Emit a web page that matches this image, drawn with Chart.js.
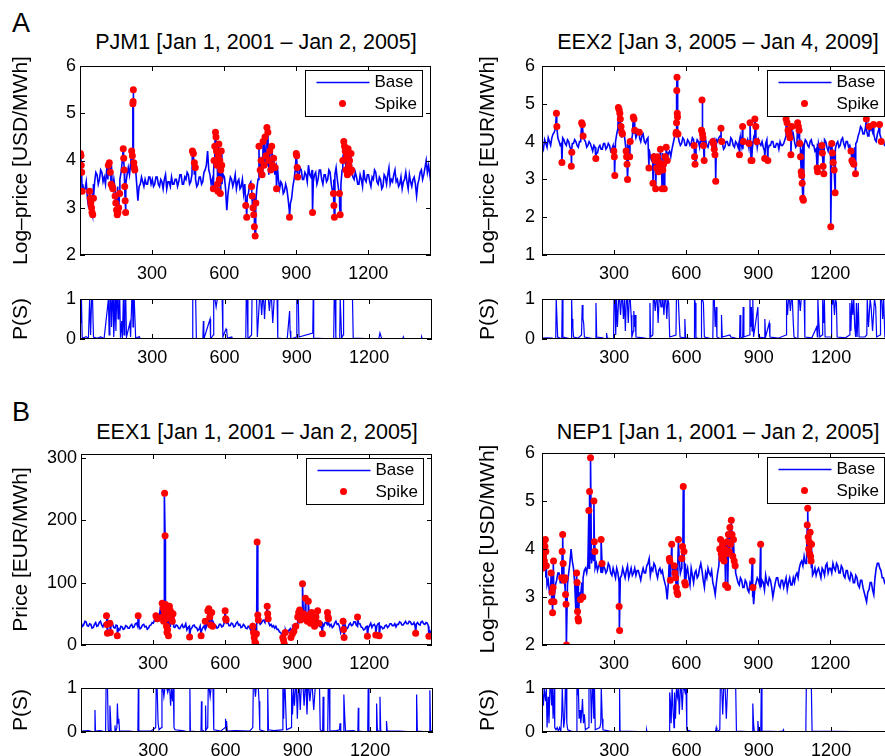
<!DOCTYPE html>
<html>
<head>
<meta charset="utf-8">
<script src="https://cdn.jsdelivr.net/npm/chart.js@4.4.0/dist/chart.umd.min.js"></script>
<style>
  html, body { margin: 0; padding: 0; overflow: hidden; background: #fff; }
  #fig { position: relative; width: 885px; height: 756px; overflow: hidden;
         font-family: "Liberation Sans", Arial, sans-serif; color: #000; }
  canvas { position: absolute; }
  .lbl { position: absolute; white-space: nowrap; }
  .ttl { position: absolute; white-space: nowrap; font-size: 21.5px; line-height: 22px; transform: translateX(-50%); }
</style>
</head>
<body>
<div id="fig">
  <div class="lbl" style="left:12px;top:10px;font-size:27px;line-height:27px">A</div>
  <div class="lbl" style="left:12px;top:399px;font-size:27px;line-height:27px">B</div>
  <div class="ttl" style="left:256px;top:31px">PJM1 [Jan 1, 2001 – Jan 2, 2005]</div>
  <div class="ttl" style="left:718px;top:31px">EEX2 [Jan 3, 2005 – Jan 4, 2009]</div>
  <div class="ttl" style="left:257px;top:421px">EEX1 [Jan 1, 2001 – Jan 2, 2005]</div>
  <div class="ttl" style="left:718px;top:421px">NEP1 [Jan 1, 2001 – Jan 2, 2005]</div>
  <canvas id="pjm"></canvas>
  <canvas id="pjmP"></canvas>
  <canvas id="eex2"></canvas>
  <canvas id="eex2P"></canvas>
  <canvas id="eex1"></canvas>
  <canvas id="eex1P"></canvas>
  <canvas id="nep"></canvas>
  <canvas id="nepP"></canvas>
</div>
<script>
// base series every 5 days, starting at day 1
const STEP = 5;
const dayMax = 1461;
const xTicks = [300, 600, 900, 1200];
const logTicks = [2, 3, 4, 5, 6];
const logTicksEEX2 = [1, 2, 3, 4, 5, 6];
const priceTicks = [0, 100, 200, 300];
const probTicks = [0, 0.5, 1];

// PJM1
const pjmBase = [
  3.9, 3.6, 3.5, 3.35, 3.4, 3.55, 3.2, 3.0, 3.05, 3.25, 3.3, 3.5, 3.55, 3.75, 3.7, 3.5, 3.6, 3.8, 3.75, 3.55,
  3.65, 3.5, 3.8, 3.6, 3.7, 3.95, 3.9, 3.55, 3.6, 3.4, 3.2, 3.45, 3.3, 3.6, 3.75, 4.0, 3.95, 3.7, 3.5, 3.7,
  3.85, 3.7, 3.95, 3.8, 4.0, 3.75, 3.85, 3.5, 3.15, 3.45, 3.5, 3.65, 3.55, 3.45, 3.6, 3.5, 3.5, 3.65, 3.65, 3.5,
  3.6, 3.45, 3.5, 3.65, 3.65, 3.5, 3.45, 3.6, 3.55, 3.4, 3.6, 3.7, 3.4, 3.55, 3.55, 3.45, 3.65, 3.5, 3.5, 3.6,
  3.6, 3.45, 3.55, 3.7, 3.7, 3.5, 3.5, 3.65, 3.6, 3.75, 3.7, 3.5, 3.55, 3.7, 4.0, 3.7, 3.6, 3.45, 3.5, 3.65,
  3.65, 3.5, 3.55, 3.75, 3.8, 3.9, 4.2, 3.8, 3.7, 3.5, 3.6, 3.75, 3.9, 4.1, 4.2, 3.9, 3.7, 3.55, 3.5, 3.7,
  3.65, 3.4, 2.95, 3.3, 3.5, 3.65, 3.6, 3.45, 3.55, 3.7, 3.4, 3.55, 3.6, 3.4, 3.45, 3.6, 3.3, 3.5, 3.1, 3.25,
  3.3, 3.5, 3.55, 3.2, 3.0, 3.3, 2.9, 3.4, 3.6, 3.75, 3.8, 3.95, 3.9, 4.1, 4.2, 3.9, 4.0, 3.7, 3.8, 3.95,
  4.1, 3.85, 3.7, 3.9, 3.9, 3.6, 3.4, 3.55, 3.5, 3.3, 3.35, 3.5, 3.4, 3.2, 2.95, 3.1, 3.2, 3.45, 3.6, 3.8,
  3.75, 3.6, 3.65, 3.85, 3.8, 3.6, 3.6, 3.75, 3.7, 3.55, 3.9, 3.7, 3.65, 3.8, 3.55, 3.7, 3.75, 3.5, 3.6, 3.8,
  3.8, 3.6, 3.5, 3.7, 3.7, 3.55, 3.6, 3.8, 3.75, 3.5, 3.35, 3.6, 3.7, 3.85, 3.6, 3.4, 3.0, 3.5, 3.8, 3.95,
  4.1, 3.85, 3.9, 4.15, 4.2, 3.9, 3.8, 3.65, 3.6, 3.75, 3.65, 3.5, 3.5, 3.7, 3.6, 3.45, 3.8, 3.6, 3.55, 3.7,
  3.7, 3.55, 3.45, 3.65, 3.6, 3.8, 3.75, 3.55, 3.5, 3.65, 3.6, 3.4, 3.45, 3.7, 3.65, 3.5, 3.7, 3.85, 3.5, 3.6,
  3.55, 3.7, 3.8, 3.55, 3.6, 3.45, 3.5, 3.65, 3.4, 3.55, 3.6, 3.75, 3.55, 3.4, 3.7, 3.55, 3.45, 3.6, 3.65, 3.5,
  3.25, 3.5, 3.6, 3.75, 3.8, 3.6, 3.7, 3.85, 4.0, 3.75, 3.9, 3.7, 3.5
];
const pjmSpikes = [
  [2,4.15],[4,4.1],[5,3.9],[7,3.75],[9,3.35],
  [40,3.35],[43,3.2],[45,3.1],[48,3.0],[50,2.9],[53,2.85],[56,3.2],
  [118,3.9],[122,3.95],[126,3.75],[130,3.5],[134,3.45],[137,3.4],
  [146,3.25],[149,3.1],[152,2.95],[155,2.85],[158,2.9],[161,3.0],[165,3.3],
  [180,4.25],[182,4.05],[184,3.8],[186,3.45],[188,3.15],[190,2.9],
  [215,4.2],[218,4.1],[220,5.2],[221,5.25],[222,5.5],[224,3.95],[226,3.85],[228,3.8],
  [468,4.2],[472,4.15],[476,3.95],[480,3.85],
  [555,3.4],[558,4.0],[561,4.3],[564,4.6],[566,4.5],[568,4.2],[570,3.9],[572,3.5],[574,3.35],
  [576,4.1],[578,4.35],[580,3.6],[582,4.0],[584,3.3],[586,3.8],[588,4.2],[590,3.9],
  [690,3.05],[694,2.8],
  [714,3.45],[717,3.25],[720,3.0],[723,2.85],[726,2.6],[729,2.4],[732,3.1],
  [745,4.3],[750,3.8],[754,4.0],[758,3.7],[762,4.4],[766,3.9],[770,4.5],[774,4.1],[778,4.7],
  [782,4.6],[786,4.0],[790,4.2],[794,3.8],[798,4.3],[802,3.9],[806,4.05],[812,3.85],[818,3.4],
  [872,2.8],[900,4.15],[902,4.1],[904,3.85],[906,3.65],[968,2.9],
  [1055,3.3],[1057,3.05],[1059,2.8],[1080,3.3],[1083,2.85],
  [1094,4.0],[1098,4.4],[1101,4.3],[1104,4.2],[1107,3.8],[1110,4.1],[1113,3.7],[1116,4.25],
  [1119,3.9],[1122,4.0],[1125,3.75],[1128,4.15],[1131,3.8]
];
const pjmProb = [
  [0,1],[2,1],[4,0.4],[6,1],[9,0.05],[12,0.02],[25,0.06],[35,0.02],[40,1],[44,0.1],[48,1],[52,1],[56,0.05],
  [70,0.02],[85,0.05],[100,0.01],[118,1],[121,0.1],[124,1],[128,1],[131,0.3],[134,1],[137,1],[140,0.05],
  [146,1],[149,0.2],[152,1],[155,1],[158,0.5],[161,1],[165,1],[168,0.03],[173,0.45],[176,0.02],
  [180,1],[183,0.1],[186,1],[190,1],[193,0.05],[207,0.4],[210,0.05],[215,1],[218,1],[220,0.3],[222,1],
  [225,1],[228,1],[231,0.02],[246,0.06],[250,0.01],[466,0],[468,1],[472,1],[476,1],[480,1],[483,0.01],
  [510,0],[512,0.45],[514,0],[540,0.5],[542,0],[553,0.1],[555,1],[560,1],[565,0.8],[570,1],[575,1],
  [580,1],[585,1],[590,1],[593,0.05],[606,0.25],[609,0.2],[612,0.02],[630,0.05],[633,0],[688,0],[690,1],
  [694,1],[697,0],[712,0.1],[714,1],[718,1],[722,1],[726,1],[729,1],[733,1],[736,0.05],[745,1],[750,1],
  [754,0.6],[758,1],[762,1],[766,0.5],[770,1],[774,1],[778,1],[782,1],[786,0.7],[790,1],[795,1],[800,0.4],
  [806,1],[812,1],[818,1],[821,0.02],[860,0],[870,0.7],[872,0.2],[875,0],[898,0.05],[900,1],[904,1],
  [906,1],[909,0.05],[966,0.15],[968,1],[970,0.02],[1053,0],[1055,1],[1059,1],[1062,0.02],[1078,0],
  [1080,1],[1083,1],[1086,0.02],[1092,0.1],[1094,1],[1100,1],[1106,1],[1112,1],[1118,1],[1124,1],
  [1131,1],[1134,0.02],[1240,0],[1245,0.15],[1250,0.05],[1255,0],[1340,0],[1342,0.05],[1345,0],
  [1416,0],[1418,0.05],[1421,0],[1461,0]
];

// EEX2
const eex2Base = [
  3.9, 3.8, 4.05, 3.95, 3.85, 4.1, 4.0, 3.9, 4.1, 4.2, 4.25, 4.35, 4.3, 4.1, 4.0, 3.9, 3.95, 4.1, 4.05, 3.95,
  3.9, 4.05, 4.0, 3.85, 3.8, 3.95, 3.95, 4.05, 4.0, 3.9, 3.85, 4.0, 4.0, 4.15, 4.2, 4.05, 4.0, 3.85, 3.9, 4.0,
  3.95, 3.85, 3.75, 3.9, 3.85, 3.7, 3.7, 3.85, 3.9, 3.8, 3.8, 3.95, 3.95, 3.8, 3.85, 3.95, 3.9, 3.75, 3.8, 3.9,
  3.85, 4.0, 4.2, 4.35, 4.3, 4.15, 4.1, 4.3, 4.25, 4.0, 3.8, 3.95, 3.9, 4.05, 4.0, 4.15, 4.2, 4.3, 4.1, 4.2,
  4.3, 4.1, 4.0, 4.15, 4.2, 4.0, 3.95, 4.05, 4.1, 3.8, 3.6, 3.5, 3.45, 3.7, 3.6, 3.35, 3.4, 3.6, 3.55, 3.3,
  3.7, 3.5, 3.35, 3.55, 3.6, 3.7, 3.75, 3.6, 3.8, 3.95, 4.1, 4.2, 4.3, 4.15, 4.0, 3.9, 3.95, 4.1, 4.05, 3.9,
  3.9, 4.05, 4.0, 3.9, 3.95, 4.1, 4.05, 3.9, 3.9, 4.05, 4.0, 3.85, 4.1, 4.0, 4.0, 4.15, 4.05, 3.9, 3.85, 4.0,
  4.0, 3.9, 4.1, 4.0, 3.9, 4.05, 4.0, 4.1, 4.15, 4.0, 3.95, 3.8, 3.85, 4.0, 4.0, 3.9, 3.9, 4.1, 4.05, 3.9,
  3.85, 4.0, 3.95, 3.85, 4.0, 4.1, 3.9, 3.8, 4.05, 3.95, 3.95, 4.05, 3.85, 3.95, 4.0, 3.85, 4.1, 4.0, 3.95, 3.85,
  4.05, 3.95, 3.9, 4.0, 3.85, 3.75, 3.95, 4.05, 3.8, 3.9, 3.9, 4.0, 4.0, 3.85, 3.85, 3.95, 3.95, 3.8, 4.0, 3.9,
  3.9, 3.95, 4.05, 4.15, 4.2, 4.35, 4.3, 4.15, 4.1, 4.2, 4.0, 3.85, 3.9, 4.1, 4.2, 4.0, 3.8, 3.95, 3.9, 4.05,
  4.0, 3.9, 3.85, 4.0, 4.05, 3.9, 3.9, 3.75, 3.8, 3.95, 3.95, 3.8, 3.7, 3.85, 3.9, 4.05, 4.0, 3.85, 3.75, 3.9,
  3.9, 3.75, 3.55, 3.7, 3.8, 3.95, 4.0, 3.85, 3.9, 4.05, 4.1, 3.95, 3.85, 4.0, 4.0, 3.85, 3.9, 3.75, 3.7, 3.8,
  3.85, 3.95, 4.0, 4.15, 4.25, 4.4, 4.35, 4.2, 4.2, 4.35, 4.3, 4.15, 4.15, 4.3, 4.35, 4.25, 4.2, 4.05, 4.0, 4.2,
  4.3, 4.2, 4.1, 4.0, 4.0, 3.9, 3.9, 4.05, 4.1, 3.95, 3.95, 4.05, 4.0
];
const eex2Spikes = [
  [60,4.75],[62,4.4],[83,3.45],[122,3.35],[124,3.72],[165,4.5],[168,4.45],[171,4.15],[224,3.55],
  [299,3.75],[301,3.6],[303,3.1],
  [318,4.9],[321,4.85],[324,4.75],[326,4.6],[329,4.4],[332,4.25],[335,4.2],[350,3.75],[352,3.6],
  [354,3.4],[356,3.0],[365,3.6],[367,4.0],[380,4.65],[383,4.6],[386,4.3],[405,4.25],[445,3.3],
  [462,2.9],[466,3.6],[470,3.5],[473,2.75],[477,3.3],[481,3.6],[485,3.2],[489,3.45],[493,3.8],
  [497,3.35],[500,2.75],[503,3.25],[506,3.4],[509,2.75],[513,3.6],[517,3.85],[521,3.5],
  [558,4.2],[559,4.25],[560,4.5],[561,5.35],[562,5.7],[563,4.75],[564,4.65],[566,4.2],
  [633,3.9],[635,3.6],[637,3.4],
  [664,4.3],[666,5.1],[668,4.2],[670,4.1],[672,3.9],[675,3.5],
  [711,4.0],[714,3.95],[717,3.8],[720,3.65],[723,2.95],
  [745,4.35],[748,4.0],[822,3.65],[835,4.4],[838,4.0],
  [862,3.95],[866,4.5],[870,3.5],[874,3.5],[886,4.6],[890,4.4],[894,4.0],[927,3.55],[940,3.5],
  [1016,4.6],[1020,4.5],[1024,4.3],[1028,4.2],[1032,4.1],[1036,3.65],[1040,4.4],
  [1064,4.5],[1067,4.4],[1070,4.3],[1073,3.95],[1076,3.6],[1079,3.2],[1081,3.1],[1083,2.9],
  [1085,2.5],[1088,2.45],
  [1145,3.3],[1147,3.2],[1165,3.9],[1167,3.7],[1170,3.35],[1173,3.15],
  [1202,1.75],[1206,3.95],[1209,3.7],[1212,3.45],[1216,3.25],[1220,2.65],
  [1286,3.75],[1290,3.5],[1294,3.45],[1298,3.4],[1305,3.15],
  [1350,4.6],[1362,4.4],[1380,4.45],[1405,4.45],[1412,4.0]
];
const eex2Prob = [
  [0,0.02],[20,0.03],[40,0.02],[57,0],[59,1],[62,1],[65,0.05],[82,0],[84,1],[87,0.05],[100,0.03],
  [121,0],[123,1],[125,0.5],[128,0.3],[131,0.05],[150,0.02],[164,0.1],[167,0.85],[170,0.5],[173,0.4],
  [176,0.05],[200,0.02],[222,0],[224,0.9],[227,0.05],[250,0.03],[266,0],[268,0.15],[271,0.02],[297,0],
  [299,1],[303,1],[306,0.1],[309,1],[313,0.3],[318,1],[322,1],[326,0.6],[330,1],[334,1],[338,0.5],
  [342,1],[346,0.2],[350,1],[354,1],[358,0.4],[362,1],[366,1],[370,0.6],[373,0.05],[379,0.2],[381,0.7],
  [384,0.3],[387,0.6],[390,0.05],[420,0.03],[446,0],[448,0.9],[451,0.05],[460,0.1],[462,1],[466,1],
  [470,0.7],[474,1],[478,1],[482,0.4],[486,1],[490,1],[494,0.8],[498,1],[502,1],[506,0.6],[510,1],
  [514,1],[518,0.5],[522,1],[526,0.9],[530,0.05],[556,0.1],[558,1],[562,1],[566,1],[570,0.4],[573,0.05],
  [590,0.03],[593,0.5],[596,0.03],[631,0],[633,1],[636,0.9],[639,0.03],[660,0],[662,1],[666,1],[670,0.9],
  [674,0.05],[709,0],[711,1],[715,1],[719,0.3],[723,0.8],[726,0.05],[743,0],[745,0.6],[748,0.05],
  [780,0.1],[784,0.05],[820,0],[822,0.6],[825,0.05],[833,0],[835,0.8],[838,0.05],[860,0.1],[863,1],
  [866,0.3],[869,0.8],[872,0.2],[875,1],[878,0.05],[896,0.8],[899,0.05],[922,0.03],[925,0.5],[928,0.05],
  [943,0.4],[946,0.05],[980,0.02],[1013,0.1],[1015,1],[1019,0.6],[1023,1],[1027,1],[1031,0.7],[1035,1],
  [1039,1],[1043,0.4],[1046,0.05],[1062,0],[1064,1],[1068,1],[1072,0.7],[1076,1],[1080,1],[1084,1],
  [1088,1],[1091,0.05],[1120,0.03],[1140,0.3],[1143,0.05],[1145,1],[1149,0.4],[1153,0.05],[1163,0.1],
  [1165,1],[1169,0.4],[1172,1],[1175,0.05],[1200,0.05],[1202,1],[1206,0.9],[1210,1],[1214,0.6],[1218,1],
  [1222,0.9],[1225,0.05],[1260,0.03],[1276,0.1],[1278,0.9],[1282,0.2],[1286,1],[1290,0.6],[1294,1],
  [1298,0.3],[1302,0.05],[1305,0.9],[1308,0.05],[1313,0.9],[1316,0.05],[1340,0.05],[1348,0.1],[1350,1],
  [1355,0.3],[1362,1],[1366,0.8],[1372,0.2],[1380,1],[1385,0.8],[1389,0.05],[1403,0.1],[1405,1],
  [1410,1],[1414,0.5],[1418,1],[1423,0.05],[1440,0.03],[1461,0.02]
];

// EEX1
const eex1Base = [
  35, 30, 32, 38, 37, 31, 30, 34, 33, 27, 28, 33, 36, 30, 31, 36, 38, 32, 29, 34,
  33, 37, 40, 33, 30, 35, 34, 28, 27, 32, 31, 26, 24, 30, 29, 25, 26, 31, 30, 27,
  27, 31, 33, 28, 29, 34, 35, 30, 31, 26, 28, 32, 33, 29, 30, 25, 27, 31, 32, 36,
  35, 40, 38, 44, 40, 48, 60, 42, 45, 36, 38, 32, 34, 28, 30, 35, 33, 29, 28, 32,
  31, 27, 26, 30, 33, 28, 29, 34, 24, 28, 30, 25, 27, 31, 32, 28, 28, 23, 25, 30,
  22, 27, 30, 26, 28, 33, 34, 38, 40, 34, 36, 31, 31, 27, 28, 33, 33, 29, 30, 35,
  42, 35, 36, 31, 31, 35, 34, 29, 30, 35, 37, 32, 33, 28, 29, 33, 31, 27, 26, 30,
  28, 24, 22, 27, 25, 30, 30, 35, 38, 33, 35, 39, 40, 36, 44, 38, 36, 31, 33, 29,
  31, 27, 30, 25, 25, 21, 20, 16, 14, 20, 24, 18, 20, 24, 26, 22, 30, 27, 32, 28,
  35, 40, 45, 38, 48, 42, 40, 46, 52, 41, 38, 33, 35, 31, 30, 34, 28, 32, 33, 29,
  29, 34, 31, 36, 36, 32, 35, 30, 33, 28, 30, 35, 38, 33, 34, 29, 20, 27, 32, 36,
  30, 26, 28, 33, 35, 31, 32, 37, 37, 32, 30, 34, 34, 29, 28, 24, 25, 29, 30, 27,
  31, 35, 28, 32, 33, 29, 30, 34, 35, 30, 29, 26, 27, 31, 32, 28, 30, 34, 34, 31,
  31, 34, 29, 33, 33, 37, 36, 32, 32, 35, 38, 34, 34, 38, 37, 33, 33, 36, 30, 34,
  36, 33, 32, 37, 38, 34, 33, 36, 35, 30, 22, 18, 28
];
const eex1Spikes = [
  [106,47],[108,33],[110,19],[120,35],[122,20],[151,15],[238,47],[312,47],[315,45],[318,42],
  [338,67],[340,45],[342,60],[344,38],[346,55],[348,243],[350,175],[352,65],[354,42],[356,30],
  [358,20],[360,25],[362,50],[364,15],[368,62],[372,55],[376,45],[380,38],[383,50],
  [452,13],[500,15],[517,38],[528,55],[532,58],[536,45],[540,32],[544,52],[548,30],
  [600,55],[602,42],[604,40],
  [715,30],[718,20],[721,12],[724,5],[727,3],[730,18],[733,165],[736,48],[738,40],
  [775,62],[777,50],[779,42],
  [840,12],[843,8],[846,2],[850,20],[874,12],[880,18],[886,22],[894,30],
  [902,45],[906,52],[910,56],[914,40],[918,48],[922,98],[926,50],[930,42],[934,75],[938,45],
  [942,38],[946,70],[950,48],[955,35],[960,52],[966,40],[972,30],[978,45],[985,55],[990,35],
  [1005,18],[1026,52],[1028,45],[1030,42],[1091,38],[1093,25],[1095,12],[1151,45],[1192,14],
  [1227,16],[1241,15],[1393,19],[1448,14]
];
const eex1Prob = [
  [0,0.02],[30,0.03],[56,0],[58,0.5],[60,0.02],[80,0.03],[102,0],[104,1],[106,1],[110,1],[113,0.05],
  [118,0],[120,0.6],[122,0.4],[125,0.02],[139,0],[141,0.15],[143,0],[149,0.1],[151,0.65],[154,0.2],
  [157,0.3],[160,0.02],[200,0.02],[236,0],[238,1],[240,0.02],[290,0.02],[310,0.1],[312,1],[316,1],
  [320,0.2],[324,0.05],[334,0.1],[336,1],[340,1],[344,0.8],[348,1],[352,1],[356,1],[360,0.9],[364,1],
  [368,1],[372,0.6],[376,1],[380,0.7],[383,1],[386,0.1],[390,0.05],[420,0.03],[450,0],[452,1],
  [454,0.02],[498,0],[500,0.7],[502,0.05],[515,0],[517,0.6],[519,0.05],[526,0.1],[528,1],[532,1],
  [536,0.8],[540,1],[544,1],[548,1],[551,0.05],[580,0.02],[598,0.1],[600,0.3],[602,0.05],[604,0.25],
  [607,0.02],[640,0.03],[700,0.02],[713,0.1],[715,1],[718,1],[721,1],[724,0.8],[727,1],[730,1],
  [733,1],[736,1],[739,0.7],[742,0.05],[773,0],[775,1],[778,0.05],[800,0.03],[835,0.05],[838,1],
  [841,0.3],[844,1],[847,1],[850,1],[853,0.05],[872,0.1],[874,1],[878,0.4],[882,1],[886,0.6],[890,1],
  [894,1],[898,0.3],[902,1],[906,1],[910,0.5],[914,1],[918,1],[922,1],[926,0.6],[930,1],[934,1],
  [938,0.4],[942,1],[946,1],[950,0.7],[955,1],[960,1],[966,0.5],[972,1],[978,1],[985,1],[990,1],
  [993,0.05],[1003,0],[1005,0.8],[1008,0.02],[1024,0],[1026,1],[1030,1],[1033,0.02],[1060,0.03],
  [1073,0.05],[1075,0.2],[1078,0.02],[1089,0],[1091,0.85],[1095,0.3],[1098,0.02],[1130,0.03],
  [1149,0],[1151,0.55],[1153,0.02],[1190,0],[1192,1],[1195,0.02],[1225,0],[1227,0.65],[1230,0.05],
  [1239,0],[1241,0.8],[1244,0.02],[1266,0],[1268,0.25],[1271,0.02],[1320,0.02],[1391,0],[1393,0.85],
  [1396,0.02],[1446,0],[1448,0.95],[1451,0.03],[1461,0.02]
];

// NEP1
const nepBase = [
  3.8, 3.7, 3.6, 3.4, 3.25, 3.35, 3.1, 3.2, 3.3, 3.1, 3.0, 3.25, 3.35, 3.5, 3.5, 3.3, 3.3, 3.45, 3.4, 3.2,
  2.9, 3.25, 3.5, 3.7, 4.0, 3.75, 3.6, 3.3, 2.7, 3.1, 3.3, 3.1, 3.05, 3.3, 3.4, 3.55, 3.6, 3.5, 3.7, 3.6,
  3.8, 3.7, 3.9, 3.75, 3.6, 3.7, 3.55, 3.65, 3.7, 3.5, 3.5, 3.65, 3.6, 3.5, 3.55, 3.7, 3.65, 3.5, 3.45, 3.6,
  3.5, 3.4, 3.6, 3.5, 3.3, 3.4, 3.45, 3.6, 3.5, 3.4, 3.55, 3.65, 3.4, 3.5, 3.6, 3.45, 3.5, 3.6, 3.45, 3.55,
  3.55, 3.45, 3.35, 3.5, 3.6, 3.5, 3.5, 3.65, 3.7, 3.8, 3.45, 3.6, 3.55, 3.7, 3.65, 3.5, 3.4, 3.55, 3.6, 3.5,
  3.55, 3.4, 3.3, 3.2, 2.95, 3.3, 3.45, 3.6, 3.7, 3.5, 3.4, 3.55, 3.6, 3.75, 3.8, 3.5, 3.6, 3.75, 4.0, 3.7,
  3.5, 3.6, 3.4, 3.25, 3.6, 3.45, 3.3, 3.5, 3.55, 3.4, 3.45, 3.6, 3.7, 3.55, 3.35, 3.2, 3.5, 3.4, 3.6, 3.5,
  3.45, 3.55, 3.3, 3.2, 3.05, 3.3, 3.5, 3.65, 3.8, 3.9, 4.0, 3.85, 3.9, 4.1, 4.2, 4.0, 4.1, 4.25, 4.3, 3.9,
  3.7, 3.5, 3.4, 3.3, 3.25, 3.4, 3.35, 3.2, 3.2, 3.35, 3.3, 3.15, 3.1, 3.3, 3.25, 3.0, 2.85, 3.2, 3.3, 3.4,
  3.35, 3.25, 3.2, 3.35, 3.3, 3.15, 3.45, 3.3, 3.25, 3.4, 3.35, 3.2, 3.0, 3.15, 3.3, 3.4, 3.4, 3.25, 3.2, 3.35,
  3.35, 3.2, 3.3, 3.4, 3.15, 3.3, 3.4, 3.25, 3.25, 3.4, 3.3, 3.45, 3.5, 3.4, 3.6, 3.7, 3.75, 3.65, 3.85, 3.7,
  3.7, 3.85, 4.0, 3.75, 3.6, 3.45, 3.5, 3.6, 3.45, 3.55, 3.6, 3.5, 3.4, 3.6, 3.55, 3.45, 3.65, 3.7, 3.5, 3.6,
  3.6, 3.5, 3.7, 3.6, 3.55, 3.7, 3.65, 3.5, 3.5, 3.65, 3.6, 3.45, 3.4, 3.55, 3.55, 3.4, 3.35, 3.5, 3.45, 3.3,
  3.3, 3.45, 3.4, 3.25, 3.2, 3.35, 3.35, 3.2, 3.1, 3.0, 2.9, 3.1, 3.15, 3.3, 3.3, 3.15, 3.05, 3.4, 3.6, 3.7,
  3.7, 3.6, 3.55, 3.4, 3.4, 3.3, 3.25, 3.4, 3.45, 3.3, 3.3, 3.4, 3.35
];
const nepSpikes = [
  [2,3.6],[4,4.0],[6,3.85],[8,4.1],[10,3.75],[12,4.05],[14,4.2],[16,3.95],[18,3.65],
  [38,3.5],[40,2.9],[42,3.1],[44,2.67],[46,3.2],[48,3.75],[50,2.9],
  [82,3.4],[84,3.95],[86,4.3],[88,3.7],[92,3.35],[96,3.4],[98,3.05],[100,2.85],[102,2.0],
  [144,3.5],[146,3.3],[148,2.7],[150,2.55],[152,2.5],[160,2.95],[170,3.0],
  [195,4.8],[198,5.2],[202,5.9],[216,5.0],[218,4.15],[220,3.95],[246,4.2],[250,3.7],
  [321,2.8],[323,2.3],
  [530,3.8],[532,3.75],[534,3.35],[540,4.1],
  [550,3.65],[553,3.5],[556,3.4],[559,3.2],[562,3.1],[565,3.05],[568,4.2],
  [582,3.8],[585,4.05],[588,5.3],[591,3.95],[594,3.3],[597,3.25],
  [740,4.0],[743,4.2],[746,3.9],[749,3.8],[752,4.1],[755,3.85],[758,3.75],[761,4.0],[764,3.25],
  [767,3.9],[770,4.15],[773,3.2],[776,4.3],[779,3.95],[782,4.45],[785,4.1],[788,4.6],[791,4.3],
  [794,3.85],[797,4.2],[800,3.75],[804,3.65],
  [875,3.75],[878,3.2],[910,4.1],
  [1104,4.5],[1106,4.85],[1108,4.25],[1110,4.0],[1112,4.15],[1114,3.9],[1116,4.35],[1118,3.85],
  [1120,3.75],[1122,4.1]
];
const nepProb = [
  [0,1],[3,1],[6,0.6],[9,1],[12,1],[15,0.7],[18,1],[21,0.1],[25,0.8],[29,0.2],[33,1],[37,1],[40,0.6],
  [43,1],[46,0.3],[50,1],[53,0.1],[58,0.05],[63,0.1],[68,0.02],[73,0.1],[78,0.02],[82,0.4],[84,1],
  [87,1],[90,0.1],[94,0.3],[97,1],[100,1],[103,0.2],[107,0.05],[120,0.02],[143,0],[145,1],[148,0.9],
  [151,1],[154,0.3],[158,0.5],[161,0.2],[165,0.45],[168,0.75],[172,0.2],[176,0.4],[180,0.05],
  [193,0.1],[195,1],[202,1],[205,0.2],[209,1],[212,1],[215,0.3],[218,1],[221,0.05],[240,0.1],
  [244,0.2],[246,1],[250,0.3],[253,0.05],[280,0.02],[320,0],[322,1],[324,0.02],[400,0.01],[432,0],
  [434,0.05],[436,0],[500,0.01],[528,0],[530,0.9],[533,0.7],[536,0.2],[540,1],[544,0.5],[548,0.1],
  [550,0.9],[554,0.3],[558,1],[562,0.8],[566,1],[570,0.4],[574,1],[578,1],[582,0.5],[586,1],[590,1],
  [594,0.9],[598,1],[601,0.05],[620,0.01],[720,0],[723,0.1],[726,0],[738,0.05],[740,1],[746,1],
  [750,0.4],[754,1],[760,1],[765,0.3],[770,1],[776,1],[782,1],[788,1],[794,1],[800,1],[804,1],
  [807,0.02],[850,0.01],[873,0],[875,0.65],[878,0.2],[881,0.02],[894,0],[896,0.25],[899,0.03],
  [908,0],[910,1],[913,0.02],[980,0.01],[1000,0.02],[1002,0.05],[1005,0],[1095,0],[1097,1],
  [1101,1],[1105,1],[1110,1],[1114,1],[1118,1],[1121,0.02],[1461,0]
];

const FONT = '"Liberation Sans", Arial, sans-serif';
const PAD_T = 12, PAD_R = 3, TICK = 5;
const LINE_W = 1.6, DOT_R = 3.5;

function seriesPoints(base, spikes) {
  const pts = base.map((v, i) => ({x: 1 + i * STEP, y: v}));
  spikes.forEach(s => pts.push({x: s[0], y: s[1]}));
  return pts.sort((a, b) => a.x - b.x);
}
const toPts = arr => arr.map(p => ({x: p[0], y: p[1]}));

// box round the plot plus inward tick marks on all four sides
const frame = {
  id: 'frame',
  afterDatasetsDraw(chart) {
    const {ctx, chartArea: a, scales} = chart;
    ctx.save();
    ctx.strokeStyle = '#000';
    ctx.lineWidth = 1;
    ctx.beginPath();
    scales.x.ticks.forEach(t => {
      const px = Math.round(scales.x.getPixelForValue(t.value)) + 0.5;
      ctx.moveTo(px, a.bottom); ctx.lineTo(px, a.bottom - TICK);
      ctx.moveTo(px, a.top); ctx.lineTo(px, a.top + TICK);
    });
    scales.y.ticks.forEach(t => {
      const py = Math.round(scales.y.getPixelForValue(t.value)) + 0.5;
      ctx.moveTo(a.left, py); ctx.lineTo(a.left + TICK, py);
      ctx.moveTo(a.right, py); ctx.lineTo(a.right - TICK, py);
    });
    ctx.stroke();
    ctx.strokeRect(a.left + 0.5, a.top + 0.5, a.right - a.left - 1, a.bottom - a.top - 1);
    ctx.restore();
  }
};

// boxed legend in the upper right of the plot
const boxLegend = {
  id: 'boxLegend',
  afterDraw(chart) {
    const {ctx, chartArea: a} = chart;
    const ds = chart.data.datasets;
    const w = 117, h = 46;
    const x0 = Math.round(a.right - 9 - w) + 0.5, y0 = Math.round(a.top + 4) + 0.5;
    ctx.save();
    ctx.fillStyle = '#fff';
    ctx.fillRect(x0, y0, w, h);
    ctx.strokeStyle = '#000';
    ctx.lineWidth = 1;
    ctx.strokeRect(x0, y0, w, h);
    ctx.strokeStyle = ds[1].borderColor;
    ctx.lineWidth = 1.3;
    ctx.beginPath();
    ctx.moveTo(x0 + 11, y0 + 12);
    ctx.lineTo(x0 + 64, y0 + 12);
    ctx.stroke();
    ctx.fillStyle = ds[0].backgroundColor;
    ctx.beginPath();
    ctx.arc(x0 + 37, y0 + 33, DOT_R, 0, Math.PI * 2);
    ctx.fill();
    ctx.fillStyle = '#000';
    ctx.font = '17px ' + FONT;
    ctx.textBaseline = 'middle';
    ctx.fillText(ds[1].label, x0 + 69, y0 + 12);
    ctx.fillText(ds[0].label, x0 + 69, y0 + 34);
    ctx.restore();
  }
};

function makeChart(id, g, datasets, yTicks, yTitle, withLegend) {
  const cv = document.getElementById(id);
  const w = g.R - g.L + g.yw + PAD_R;
  const h = PAD_T + g.B - g.T + g.xh;
  cv.width = w; cv.height = h;
  cv.style.width = w + 'px'; cv.style.height = h + 'px';
  cv.style.left = (g.L - g.yw) + 'px';
  cv.style.top = (g.T - PAD_T) + 'px';
  return new Chart(cv, {
    type: 'scatter',
    data: {datasets},
    options: {
      responsive: false,
      animation: false,
      events: [],
      layout: {padding: {top: PAD_T, right: PAD_R, left: 0, bottom: 0}},
      plugins: {legend: {display: false}, tooltip: {enabled: false}},
      scales: {
        x: {
          type: 'linear', min: 0, max: dayMax,
          grid: {display: false, drawTicks: false},
          border: {display: false},
          afterBuildTicks: s => { s.ticks = xTicks.map(v => ({value: v})); },
          ticks: {font: {size: 18, family: FONT}, color: '#000', padding: 8, maxRotation: 0,
                  autoSkip: false, callback: v => String(v)},
          afterFit: s => { s.height = g.xh; s.paddingLeft = 0; s.paddingRight = 0; }
        },
        y: {
          type: 'linear', min: yTicks[0], max: g.ymax,
          grid: {display: false, drawTicks: false},
          border: {display: false},
          afterBuildTicks: s => { s.ticks = yTicks.map(v => ({value: v})); },
          ticks: {font: {size: 18, family: FONT}, color: '#000', padding: g.lp, callback: v => String(v)},
          title: {display: true, text: yTitle, color: '#000', font: {size: 21, family: FONT},
                  padding: {top: 9, bottom: 0}},
          afterFit: s => { s.width = g.yw; s.paddingTop = 0; s.paddingBottom = 0; }
        }
      }
    },
    plugins: withLegend ? [frame, boxLegend] : [frame]
  });
}

function mainSets(base, spikes) {
  return [
    {label: 'Spike', data: toPts(spikes), backgroundColor: '#ff0000', borderColor: '#ff0000',
     pointRadius: DOT_R, borderWidth: 0, order: 0},
    {label: 'Base', data: seriesPoints(base, spikes), showLine: true, borderColor: '#0000ff',
     borderWidth: LINE_W, pointRadius: 0, tension: 0, order: 1}
  ];
}
function probSets(prob) {
  return [{label: 'P(S)', data: toPts(prob), showLine: true, borderColor: '#0000ff',
           borderWidth: 1.2, pointRadius: 0, tension: 0}];
}

makeChart('pjm',  {L: 80, T: 66, R: 432, B: 255, yw: 80, xh: 30, lp: 4, ymax: 6},
          mainSets(pjmBase, pjmSpikes), logTicks, 'Log–price [USD/MWh]', true);
makeChart('pjmP', {L: 80, T: 299, R: 432, B: 339, yw: 80, xh: 30, lp: 4, ymax: 1},
          probSets(pjmProb), probTicks, 'P(S)', false);
makeChart('eex2', {L: 542, T: 66, R: 894, B: 255, yw: 75, xh: 30, lp: 7, ymax: 6},
          mainSets(eex2Base, eex2Spikes), logTicksEEX2, 'Log–price [EUR/MWh]', true);
makeChart('eex2P', {L: 542, T: 299, R: 894, B: 339, yw: 75, xh: 30, lp: 7, ymax: 1},
          probSets(eex2Prob), probTicks, 'P(S)', false);
makeChart('eex1', {L: 81, T: 454, R: 433, B: 645, yw: 81, xh: 30, lp: 4, ymax: 306},
          mainSets(eex1Base, eex1Spikes), priceTicks, 'Price [EUR/MWh]', true);
makeChart('eex1P', {L: 81, T: 688, R: 433, B: 732, yw: 81, xh: 30, lp: 4, ymax: 1},
          probSets(eex1Prob), probTicks, 'P(S)', false);
makeChart('nep',  {L: 542, T: 453, R: 894, B: 645, yw: 75, xh: 30, lp: 7, ymax: 6},
          mainSets(nepBase, nepSpikes), logTicks, 'Log–price [USD/MWh]', true);
makeChart('nepP', {L: 542, T: 688, R: 894, B: 732, yw: 75, xh: 30, lp: 7, ymax: 1},
          probSets(nepProb), probTicks, 'P(S)', false);
</script>
</body>
</html>
